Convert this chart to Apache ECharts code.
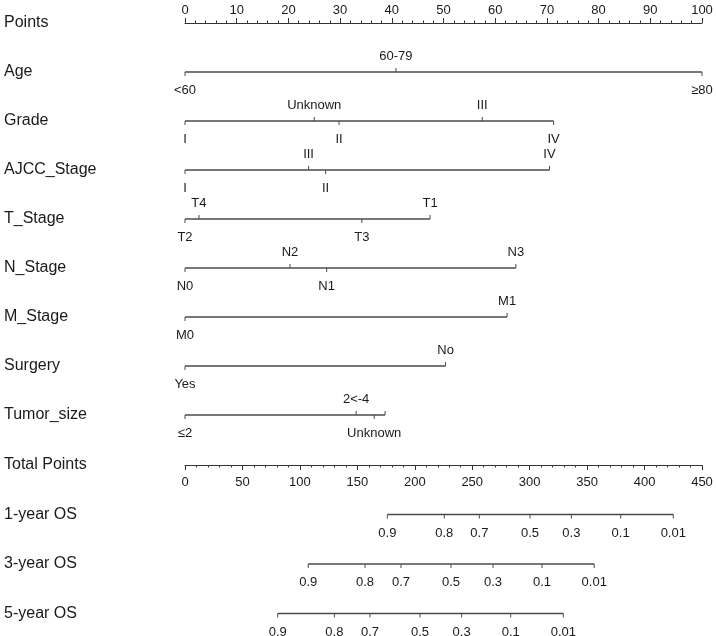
<!DOCTYPE html>
<html>
<head>
<meta charset="utf-8">
<script src="https://cdn.jsdelivr.net/npm/echarts@6/dist/echarts.min.js"></script>
<style>html,body{margin:0;padding:0;background:#fff;}#c{width:716px;height:636px;}</style>
</head>
<body>
<div id="c"></div>
<script>
// ---- Data ----
const rowsTop = ['Points','Age','Grade','AJCC_Stage','T_Stage','N_Stage','M_Stage','Surgery','Tumor_size'];
const rowsBottom = ['Total Points','1-year OS','3-year OS','5-year OS'];

const ageLabels = ['<60','60-79','≥80'];
const agePoints = [0, 40.8, 100];
const gradeLabels = ['I','Unknown','II','III','IV'];
const gradePoints = [0, 25.0, 29.8, 57.5, 71.3];
const ajccLabels = ['I','III','II','IV'];
const ajccPoints = [0, 23.9, 27.2, 70.5];
const tLabels = ['T2','T4','T3','T1'];
const tPoints = [0, 2.7, 34.2, 47.4];
const nLabels = ['N0','N2','N1','N3'];
const nPoints = [0, 20.3, 27.4, 64.0];
const mLabels = ['M0','M1'];
const mPoints = [0, 62.3];
const surgeryLabels = ['Yes','No'];
const surgeryPoints = [0, 50.4];
const tumorLabels = ['≤2','2<-4','Unknown',''];
const tumorPoints = [0, 33.1, 36.6, 38.7];

const osLabels = ['0.9','0.8','0.7','0.5','0.3','0.1','0.01'];
const os1Total = [176.1, 225.7, 256.2, 300.3, 336.3, 379.2, 425.0];
const os3Total = [107.3, 156.7, 188.0, 231.5, 268.1, 310.7, 356.2];
const os5Total = [80.7, 130.0, 161.0, 204.5, 240.8, 283.5, 329.3];

// ---- Build tick items ----
function vars(row, labels, pts) {
  return labels.map((l, i) => ({ x: pts[i], row: row, label: l, side: i % 2 === 0 ? 'below' : 'above' }));
}
const topItems = [].concat(
  vars(1, ageLabels, agePoints),
  vars(2, gradeLabels, gradePoints),
  vars(3, ajccLabels, ajccPoints),
  vars(4, tLabels, tPoints),
  vars(5, nLabels, nPoints),
  vars(6, mLabels, mPoints),
  vars(7, surgeryLabels, surgeryPoints),
  vars(8, tumorLabels, tumorPoints)
);
function osItems(row, totals) {
  return osLabels.map((l, i) => ({ x: totals[i], row: row, label: l, side: 'below' }));
}
const bottomItems = [].concat(osItems(1, os1Total), osItems(2, os3Total), osItems(3, os5Total));

function segs(items) {
  const m = {};
  items.forEach(d => {
    if (!m[d.row]) m[d.row] = [d.x, d.x];
    m[d.row][0] = Math.min(m[d.row][0], d.x);
    m[d.row][1] = Math.max(m[d.row][1], d.x);
  });
  return Object.keys(m).map(k => [m[k][0], m[k][1], +k]);
}

const FONT = '"Liberation Sans", Arial, sans-serif';
const LINE = '#4a4a4a';
const TXT = '#1a1a1a';

function tickSeries(items, gi) {
  return {
    type: 'custom', xAxisIndex: gi, yAxisIndex: gi, clip: false,
    data: items.map(d => [d.x, d.row]),
    renderItem: function (params, api) {
      const d = items[params.dataIndex];
      const p = api.coord([api.value(0), api.value(1)]);
      const up = d.side === 'above';
      const len = 4;
      const children = [{
        type: 'line',
        shape: { x1: p[0], y1: p[1], x2: p[0], y2: up ? p[1] - len : p[1] + len },
        style: { stroke: LINE, lineWidth: 1 }
      }];
      if (d.label) {
        children.push({
          type: 'text',
          style: {
            text: d.label, x: p[0], y: up ? p[1] - 9 : p[1] + 12,
            textAlign: 'center', textVerticalAlign: up ? 'bottom' : 'top',
            font: '13px ' + FONT, fill: TXT
          }
        });
      }
      return { type: 'group', children: children };
    }
  };
}
function segSeries(items, gi) {
  return {
    type: 'custom', xAxisIndex: gi, yAxisIndex: gi, clip: false,
    data: segs(items),
    renderItem: function (params, api) {
      const a = api.coord([api.value(0), api.value(2)]);
      const b = api.coord([api.value(1), api.value(2)]);
      return { type: 'line', shape: { x1: a[0], y1: a[1], x2: b[0], y2: b[1] }, style: { stroke: LINE, lineWidth: 1.3 } };
    }
  };
}

const chart = echarts.init(document.getElementById('c'), null, { renderer: 'canvas' });
const yCommon = {
  type: 'category', inverse: true, boundaryGap: false,
  axisLine: { show: false }, axisTick: { show: false }, splitLine: { show: false },
  axisLabel: { align: 'left', margin: 181, fontSize: 16, color: TXT, fontFamily: FONT }
};
chart.setOption({
  animation: false,
  backgroundColor: '#fff',
  grid: [
    { left: 185, right: 14, top: 23, height: 392 },
    { left: 185, right: 14, top: 465, height: 148.5 }
  ],
  xAxis: [
    {
      gridIndex: 0, type: 'value', position: 'top', min: 0, max: 100, interval: 10,
      axisLine: { show: true, lineStyle: { color: '#333', width: 1 } },
      axisTick: { show: true, inside: false, length: 5, lineStyle: { color: '#333' } },
      minorTick: { show: true, splitNumber: 5, length: 2.5, lineStyle: { color: '#333' } },
      splitLine: { show: false }, minorSplitLine: { show: false },
      axisLabel: { margin: 6, fontSize: 13, color: TXT, fontFamily: FONT }
    },
    {
      gridIndex: 1, type: 'value', position: 'top', min: 0, max: 450, interval: 50,
      axisLine: { show: true, lineStyle: { color: '#333', width: 1 } },
      axisTick: { show: true, inside: true, length: 5, lineStyle: { color: '#333' } },
      minorTick: { show: true, splitNumber: 5, length: 2.5, lineStyle: { color: '#333' } },
      splitLine: { show: false }, minorSplitLine: { show: false },
      axisLabel: { inside: true, margin: 11, fontSize: 13, color: TXT, fontFamily: FONT }
    }
  ],
  yAxis: [
    Object.assign({ gridIndex: 0, data: rowsTop }, yCommon),
    Object.assign({ gridIndex: 1, data: rowsBottom }, yCommon)
  ],
  series: [
    segSeries(topItems, 0), tickSeries(topItems, 0),
    segSeries(bottomItems, 1), tickSeries(bottomItems, 1)
  ]
});
</script>
</body>
</html>
